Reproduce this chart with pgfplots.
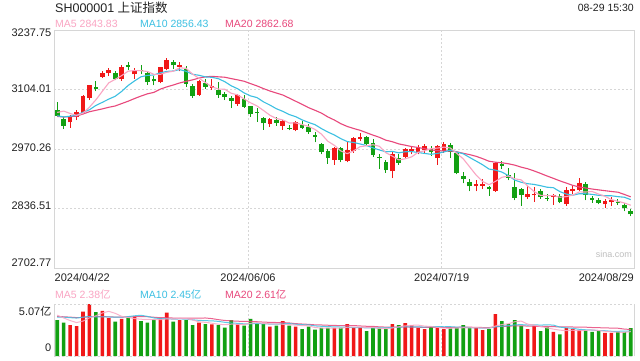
\documentclass[border=0pt]{standalone}
\usepackage{pgfplots}
\pgfplotsset{compat=1.18}
\usepackage{pgfplotstable}
\usepackage{fontspec}
\setmainfont{Liberation Sans}
\newfontfamily\cjk{Noto Sans CJK SC}
\definecolor{upc}{RGB}{240,24,24}
\definecolor{dnc}{RGB}{18,160,18}
\definecolor{maA}{RGB}{250,165,195}
\definecolor{maB}{RGB}{60,192,226}
\definecolor{maC}{RGB}{232,72,124}
\definecolor{frm}{RGB}{214,214,214}
\definecolor{txt}{RGB}{34,34,34}

\pgfplotstableread{
i o h l c v
2 3030 3047 3018 3044.82 3.02
3 3043 3059 3035 3052.90 2.92
4 3052 3092 3048 3088.64 4.32
5 3085 3114 3080 3113.04 5.07
7 3133 3145 3130 3140.72 4.39
8 3140 3153 3134 3147.74 3.70
10 3128 3158 3124 3154.32 3.61
12 3138 3152 3128 3148.02 3.83
16 3120 3155 3118 3154.03 3.67
17 3150 3174.27 3147 3171.15 4.22
19 3155 3165 3145 3158.54 3.51
22 3092 3126 3090 3124.04 3.25
24 3108 3127 3104 3111.02 3.09
28 3072 3093 3068 3091.20 3.09
33 3026 3040 3020 3037.47 2.86
35 3022 3036 3014 3032.63 3.41
37 3013 3033 3010 3030.25 2.86
43 2946 2975 2935 2972.53 2.74
45 2943 2985 2940 2967.40 3.10
46 2965 2998 2962 2994.73 2.78
47 2993 3006 2988 2997.01 2.78
52 2920 2963 2905 2959.37 3.10
54 2952 2973 2948 2970.39 3.20
55 2965 2978 2958 2971.30 3.01
56 2962 2979 2958 2974.01 2.74
57 2968 2981 2960 2976.30 2.61
59 2950 2979 2935 2977.13 2.74
60 2966 2987 2962 2982.31 2.61
65 2886 2900 2875 2890.90 2.71
66 2888 2902 2880 2891.85 2.52
68 2876 2940 2874 2938.75 4.09
73 2862 2886 2858 2869.90 2.61
74 2866 2885 2852 2869.83 2.94
77 2862 2870 2845 2867.95 2.35
79 2847 2885 2843 2877.36 2.71
80 2876 2890 2870 2879.43 2.61
81 2878 2905 2875 2893.67 2.55
85 2846 2857 2838 2854.37 2.25
86 2852 2862 2842 2855.52 2.25
}\up

\pgfplotstableread{
i o h l c v
0 3057.9 3076.7 3042.9 3044.60 3.51
1 3037.7 3042.9 3015.2 3021.98 3.25
6 3110 3123 3100 3104.82 4.29
9 3142 3146 3125 3128.48 3.35
11 3160 3166 3147 3154.55 3.73
13 3148 3158 3138 3145.77 3.41
14 3140 3143 3115 3119.90 3.25
15 3127 3134 3113 3122.40 3.54
18 3166 3170 3150 3157.97 3.35
20 3150 3156 3110 3116.39 3.51
21 3112 3116 3085 3088.87 3.02
23 3119 3128 3105 3109.57 3.12
25 3103 3120 3086 3091.68 3.02
26 3094 3098 3080 3086.81 2.76
27 3085 3090 3062 3078.49 3.51
29 3083 3092 3062 3065.40 2.96
30 3066 3068 3043 3048.79 3.61
31 3054 3062 3032 3051.28 3.12
32 3040 3042 3014 3028.05 3.12
34 3036 3042 3022 3028.92 2.96
36 3018 3024 3012 3015.89 2.96
38 3025 3033 3015 3018.05 2.63
39 3020 3026 3004 3008.89 2.86
40 3001 3008 2985 2998.14 2.56
41 2982 2984 2958 2963.10 2.74
42 2966 2970 2937 2950.00 2.74
44 2972 2975 2940 2945.85 2.74
48 2997 2999 2978 2982.38 2.42
49 2983 2993 2952 2957.57 2.74
50 2953 2958 2925 2949.93 2.74
51 2940 2946 2917 2922.45 2.65
53 2950 2960 2935 2939.36 3.01
58 2970 2976 2955 2962.86 2.84
61 2979 2984 2950 2964.22 2.71
62 2962 2964 2913 2915.37 2.71
63 2910 2918 2893 2901.95 3.01
64 2895 2902 2875 2886.43 2.71
67 2884 2888 2865 2879.30 2.61
69 2937 2943 2925 2932.39 3.40
70 2911 2928 2900 2905.34 3.10
71 2885 2916 2855 2860.70 3.50
72 2880 2882 2843 2867.28 2.94
75 2875 2880 2858 2862.19 2.42
76 2861 2868 2853 2858.20 2.78
78 2865 2868 2848 2850.65 2.12
82 2892 2895 2855 2866.66 2.49
83 2860 2864 2850 2856.58 2.35
84 2856 2860 2846 2848.77 2.42
87 2852 2858 2844 2848.73 2.32
88 2845 2849 2830 2837.43 2.32
89 2832 2835 2819 2823.11 2.71
}\dn

\pgfplotstableread{
i ma5 ma10 ma20 vma5 vma10 vma20
0 3052.51 3044.95 3043.45 3.982 3.801 3.856
1 3055.49 3042.30 3042.15 3.712 3.786 3.823
2 3050.18 3044.04 3043.07 3.456 3.738 3.789
3 3045.91 3045.91 3044.14 3.260 3.700 3.745
4 3050.59 3052.83 3048.92 3.404 3.792 3.761
5 3064.28 3058.39 3054.04 3.716 3.849 3.835
6 3080.84 3068.17 3057.22 3.924 3.818 3.849
7 3100.02 3075.10 3060.39 4.198 3.827 3.839
8 3118.99 3082.45 3064.03 4.354 3.807 3.819
9 3126.96 3088.77 3066.99 4.160 3.782 3.796
10 3135.22 3099.75 3072.35 3.868 3.792 3.797
11 3145.16 3113.00 3077.65 3.756 3.840 3.813
12 3146.62 3123.32 3083.68 3.644 3.921 3.830
13 3146.23 3132.61 3089.26 3.586 3.970 3.835
14 3144.51 3135.74 3094.28 3.566 3.863 3.828
15 3138.13 3136.67 3097.53 3.552 3.710 3.780
16 3138.02 3141.59 3104.88 3.540 3.648 3.733
17 3142.65 3144.64 3109.87 3.618 3.631 3.729
18 3145.09 3145.66 3114.06 3.606 3.596 3.702
19 3152.82 3148.67 3118.72 3.658 3.612 3.697
20 3151.62 3144.87 3122.31 3.652 3.602 3.697
21 3138.58 3138.30 3125.65 3.522 3.531 3.686
22 3129.16 3135.91 3129.61 3.328 3.473 3.697
23 3119.48 3132.29 3132.45 3.282 3.444 3.707
24 3109.98 3131.40 3133.57 3.198 3.428 3.646
25 3105.04 3128.33 3132.50 3.100 3.376 3.543
26 3104.62 3121.60 3131.60 3.048 3.285 3.467
27 3095.51 3112.34 3128.49 3.100 3.214 3.423
28 3091.84 3105.66 3125.66 3.094 3.188 3.392
29 3082.72 3096.35 3122.51 3.068 3.133 3.373
30 3074.14 3089.59 3117.23 3.186 3.143 3.373
31 3067.03 3085.83 3112.07 3.258 3.153 3.342
32 3056.94 3076.23 3106.07 3.180 3.140 3.307
33 3046.20 3069.02 3100.65 3.134 3.114 3.279
34 3038.90 3060.81 3096.10 3.134 3.101 3.265
35 3035.67 3054.90 3091.62 3.094 3.140 3.258
36 3028.59 3047.81 3084.71 3.062 3.160 3.223
37 3029.03 3042.99 3077.66 3.010 3.095 3.155
38 3025.15 3035.67 3070.67 2.964 3.049 3.119
39 3021.14 3030.02 3063.18 2.944 3.039 3.086
40 3014.24 3024.96 3057.27 2.774 2.934 3.039
41 3003.69 3016.14 3050.98 2.730 2.896 3.025
42 2987.64 3008.33 3042.28 2.706 2.858 2.999
43 2978.53 3001.84 3035.43 2.728 2.846 2.980
44 2965.92 2993.53 3027.17 2.704 2.824 2.963
45 2959.78 2987.01 3020.96 2.812 2.793 2.967
46 2966.10 2984.89 3016.35 2.820 2.775 2.968
47 2975.50 2981.57 3012.28 2.828 2.767 2.931
48 2977.47 2978.00 3006.84 2.764 2.746 2.898
49 2979.82 2972.87 3001.45 2.764 2.734 2.887
50 2976.32 2968.05 2996.50 2.692 2.752 2.843
51 2961.87 2963.99 2990.06 2.666 2.743 2.820
52 2954.34 2964.92 2986.63 2.730 2.779 2.819
53 2945.74 2961.61 2981.72 2.848 2.806 2.826
54 2948.30 2964.06 2978.80 2.940 2.852 2.838
55 2952.57 2964.45 2975.73 2.994 2.843 2.818
56 2962.89 2962.38 2973.64 3.012 2.839 2.807
57 2966.27 2960.31 2970.94 2.914 2.822 2.795
58 2970.97 2958.35 2968.18 2.880 2.864 2.805
59 2972.32 2960.31 2966.59 2.788 2.864 2.799
60 2974.52 2963.55 2965.80 2.708 2.851 2.802
61 2972.56 2967.73 2965.86 2.702 2.857 2.800
62 2960.38 2963.33 2964.12 2.722 2.818 2.799
63 2948.20 2959.58 2960.59 2.756 2.818 2.812
64 2930.06 2951.19 2957.62 2.750 2.769 2.811
65 2911.77 2943.15 2953.80 2.770 2.739 2.791
66 2897.30 2934.93 2948.65 2.732 2.717 2.778
67 2890.09 2925.23 2942.77 2.712 2.717 2.770
68 2897.45 2922.82 2940.59 2.928 2.842 2.853
69 2906.64 2918.35 2939.33 3.066 2.908 2.886
70 2909.53 2910.65 2937.10 3.144 2.957 2.904
71 2903.30 2900.30 2934.01 3.340 3.036 2.947
72 2900.89 2895.49 2929.41 3.406 3.059 2.939
73 2887.12 2892.28 2925.93 3.110 3.019 2.919
74 2874.61 2890.62 2920.91 3.018 3.042 2.906
75 2865.98 2887.75 2915.45 2.882 3.013 2.876
76 2865.48 2884.39 2909.66 2.738 3.039 2.878
77 2865.61 2883.25 2904.24 2.620 3.013 2.865
78 2861.76 2874.44 2898.63 2.522 2.816 2.829
79 2863.27 2868.94 2893.64 2.476 2.747 2.828
80 2866.72 2866.35 2888.50 2.514 2.698 2.828
81 2873.81 2869.65 2884.97 2.468 2.603 2.820
82 2873.55 2869.58 2882.54 2.496 2.558 2.809
83 2874.74 2868.25 2880.27 2.542 2.532 2.776
84 2869.02 2866.15 2878.39 2.484 2.480 2.761
85 2864.01 2865.36 2876.56 2.412 2.463 2.738
86 2856.38 2865.10 2874.74 2.352 2.410 2.725
87 2852.79 2863.17 2873.21 2.318 2.407 2.710
88 2848.96 2861.85 2868.15 2.312 2.427 2.622
89 2843.83 2856.43 2862.68 2.370 2.427 2.587
}\ma

\pgfplotsset{
  candle/.style 2 args={draw=none, no markers, forget plot,
    error bars/.cd, y dir=plus, y explicit, error mark=none,
    error bar style={draw=#1, line width=#2, solid}},
}

\begin{document}
\begin{tikzpicture}[x=1pt,y=1pt]
\useasboundingbox (0,0) rectangle (640,360);
\fill[white] (0,0) rectangle (640,360);
% ---------- main candlestick panel ----------
\begin{axis}[
  name=main, at={(54pt,92pt)}, anchor=south west,
  scale only axis, width=580pt, height=238pt,
  xmin=-0.5, xmax=89.5, ymin=2702.77, ymax=3237.75,
  axis line style={draw=frm, line width=0.8pt},
  xtick={29.6,59.66}, ytick={2836.51,2970.26,3104.01},
  xticklabels={}, yticklabels={},
  major tick length=0pt,
  grid=major,
  major grid style={draw=frm, line width=0.9pt, dash pattern=on 2pt off 2pt},
]
% wicks
\addplot[candle={upc}{1pt}] table[x=i, y=l, y error expr=\thisrow{h}-\thisrow{l}] {\up};
\addplot[candle={dnc}{1pt}] table[x=i, y=l, y error expr=\thisrow{h}-\thisrow{l}] {\dn};
% bodies
\addplot[candle={upc}{4.6pt}] table[x=i, y=o, y error expr=\thisrow{c}-\thisrow{o}] {\up};
\addplot[candle={dnc}{4.6pt}] table[x=i, y=c, y error expr=\thisrow{o}-\thisrow{c}] {\dn};
% moving averages
\addplot[maC, line width=1.1pt, mark=none, line join=round] table[x=i, y=ma20] {\ma};
\addplot[maB, line width=1.1pt, mark=none, line join=round] table[x=i, y=ma10] {\ma};
\addplot[maA, line width=1.1pt, mark=none, line join=round] table[x=i, y=ma5] {\ma};
\end{axis}

% ---------- volume panel ----------
\begin{axis}[
  name=vol, at={(54pt,4pt)}, anchor=south west,
  scale only axis, width=580pt, height=52pt,
  xmin=-0.5, xmax=89.5, ymin=0, ymax=5.07,
  axis line style={draw=none},
  xtick={29.6,59.66}, ytick=\empty, xticklabels={},
  major tick length=0pt,
  xmajorgrids,
  major grid style={draw=frm, line width=0.9pt, dash pattern=on 2pt off 2pt},
]
\addplot[ybar, bar width=3.6pt, bar shift=0pt, fill=upc, draw=none] table[x=i, y=v] {\up};
\addplot[ybar, bar width=3.6pt, bar shift=0pt, fill=dnc, draw=none] table[x=i, y=v] {\dn};
\addplot[maC, line width=1pt, mark=none, opacity=0.85] table[x=i, y=vma20] {\ma};
\addplot[maB, line width=1pt, mark=none, opacity=0.85] table[x=i, y=vma10] {\ma};
\addplot[maA, line width=1pt, mark=none, opacity=0.85] table[x=i, y=vma5] {\ma};
\end{axis}
\draw[frm, line width=0.8pt] (vol.south west) -- (vol.north west);
\draw[frm, line width=0.8pt] (vol.south east) -- (vol.north east);
\draw[frm, line width=0.9pt, dash pattern=on 2pt off 2pt] (vol.north west) -- (vol.north east);
\draw[frm, line width=0.9pt, dash pattern=on 2pt off 2pt] (vol.south west) -- (vol.south east);

% ---------- texts ----------
\node[anchor=west, inner sep=0pt, text=txt, font=\fontsize{12.5}{14}\selectfont] at (55,352) {SH000001 {\cjk 上证指数}};
\node[anchor=east, inner sep=0pt, text=txt, font=\fontsize{10.5}{12}\selectfont] at (634,352) {08-29 15:30};

\begin{scope}[every node/.style={anchor=west, inner sep=0pt, font=\fontsize{10.5}{12}\selectfont}]
\node[text=maA] at (55,336) {MA5 2843.83};
\node[text=maB] at (140,336) {MA10 2856.43};
\node[text=maC] at (225,336) {MA20 2862.68};
\node[text=maA] at (55,65.7) {MA5 2.38{\cjk 亿}};
\node[text=maB] at (140,65.7) {MA10 2.45{\cjk 亿}};
\node[text=maC] at (225,65.7) {MA20 2.61{\cjk 亿}};
\end{scope}

\begin{scope}[every node/.style={anchor=east, inner sep=0pt, text=txt, font=\fontsize{11}{13}\selectfont}]
\node at (51.5,327) {3237.75};
\node at (51.5,271) {3104.01};
\node at (51.5,212) {2970.26};
\node at (51.5,154) {2836.51};
\node at (51.5,97) {2702.77};
\node at (51.5,49) {5.07{\cjk 亿}};
\node at (51.5,12) {0};
\end{scope}

\begin{scope}[every node/.style={inner sep=0pt, text=txt, font=\fontsize{11}{13}\selectfont}]
\node[anchor=west] at (54.5,82) {2024/04/22};
\node at (248,82) {2024/06/06};
\node at (441.7,82) {2024/07/19};
\node[anchor=east] at (634,82) {2024/08/29};
\end{scope}

\node[anchor=east, inner sep=0pt, text=black!25, font=\fontsize{9}{10}\selectfont] at (632,106) {sina.com};
\end{tikzpicture}
\end{document}
